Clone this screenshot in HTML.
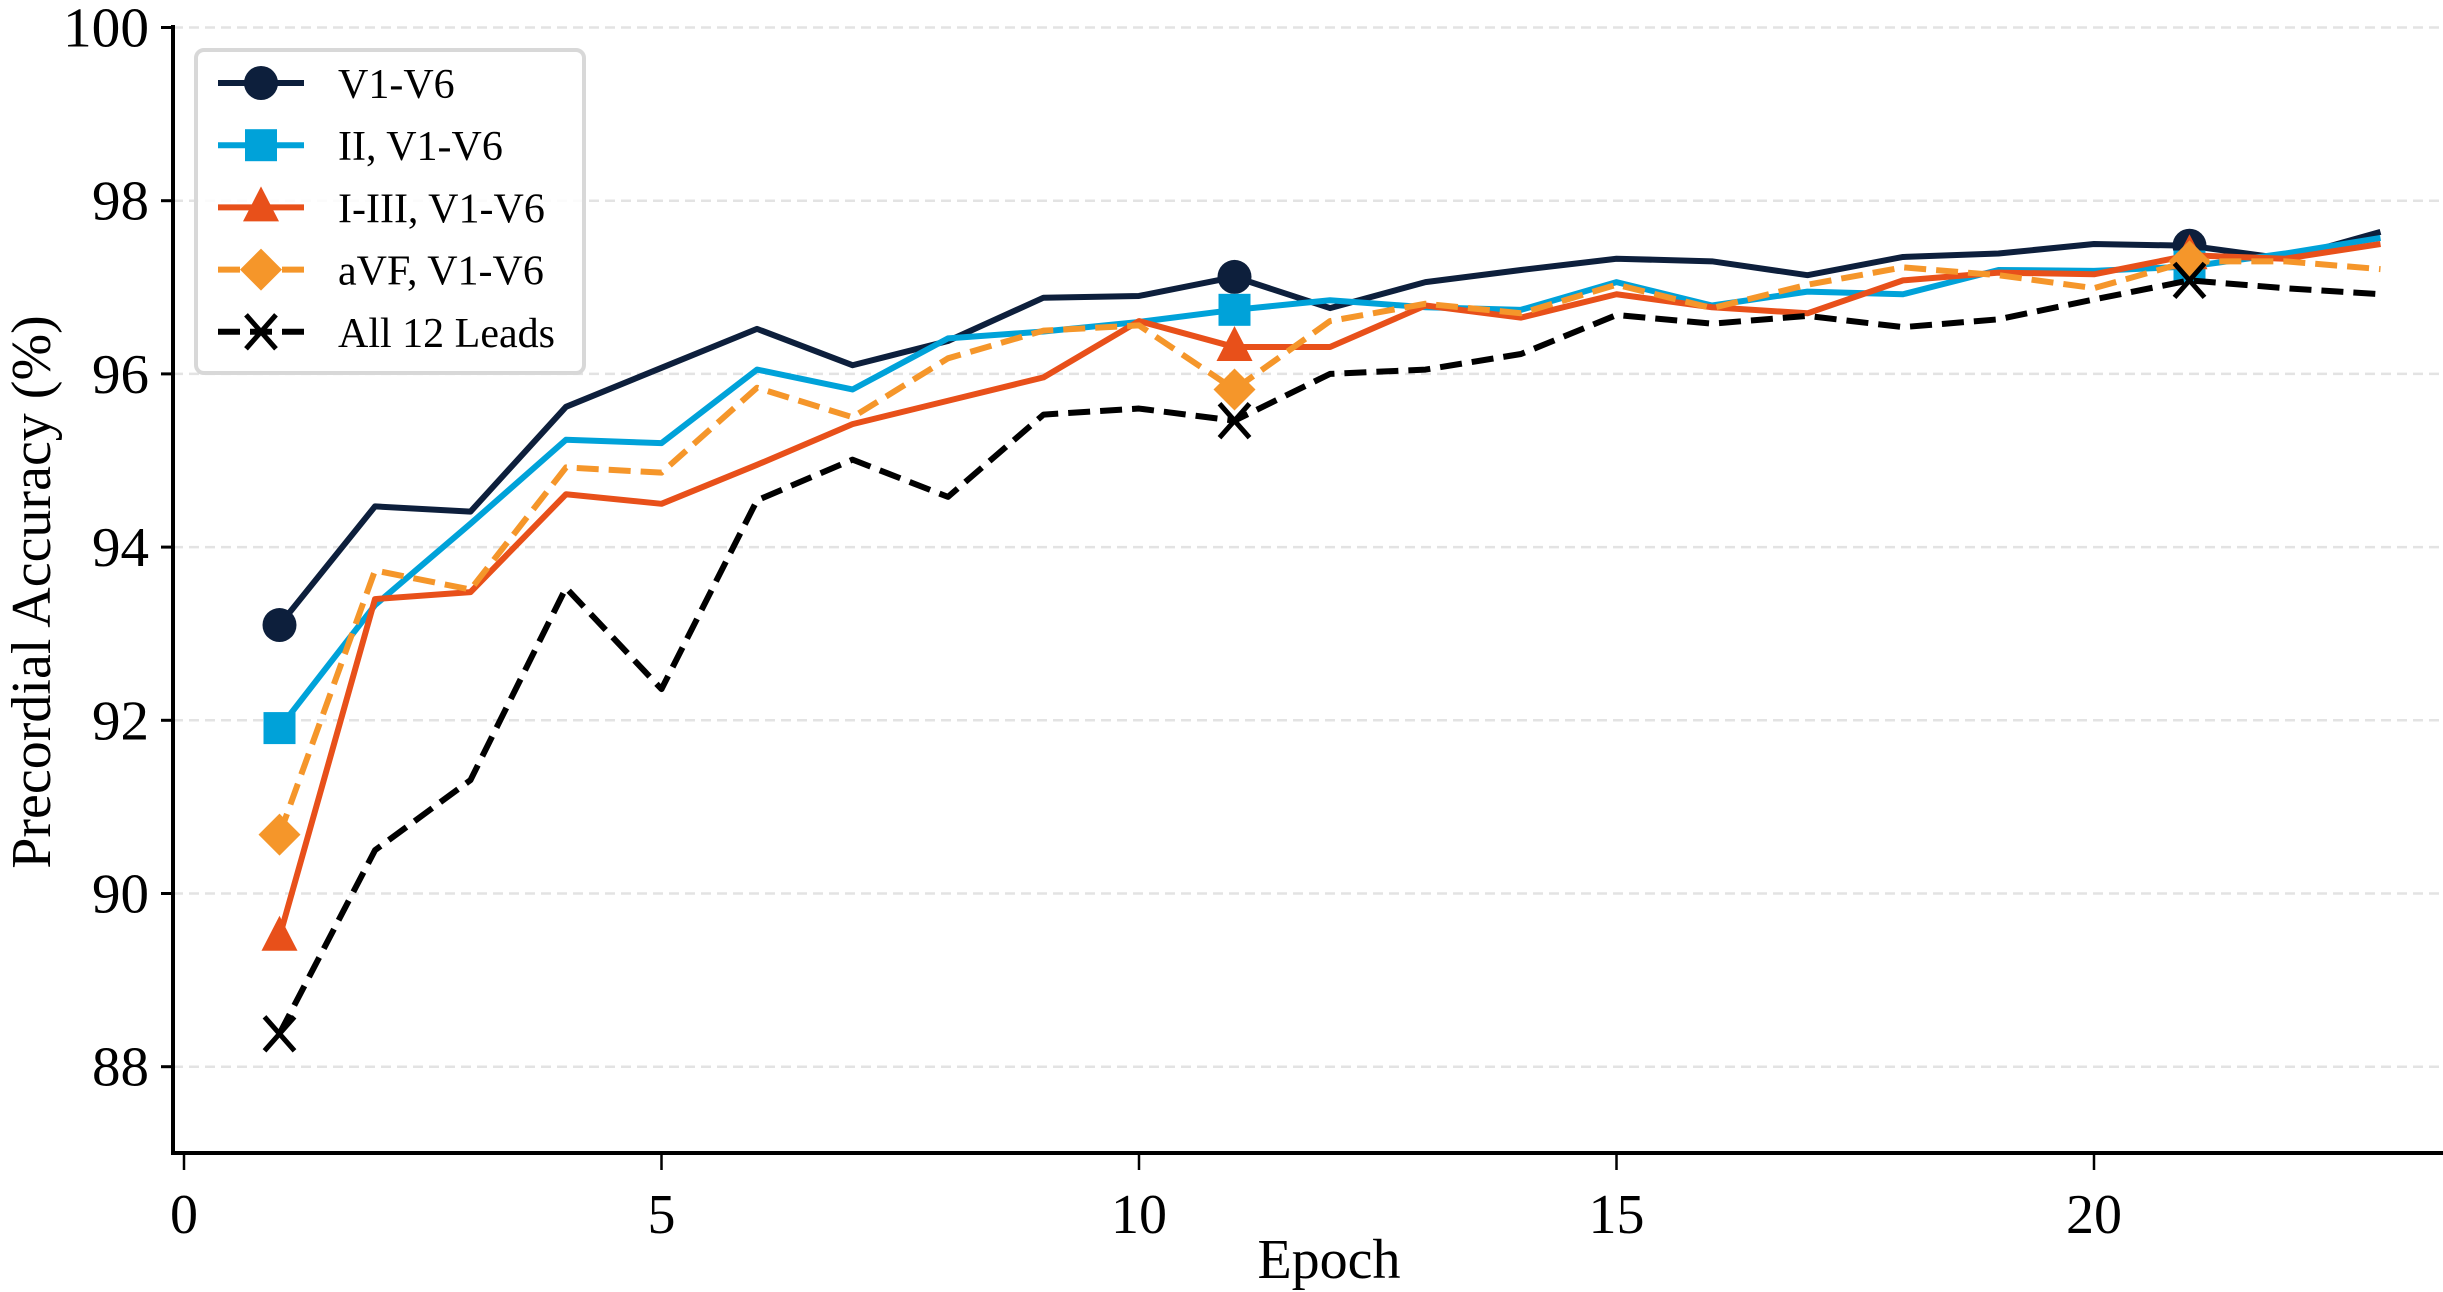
<!DOCTYPE html>
<html><head><meta charset="utf-8">
<style>
html,body{margin:0;padding:0;background:#fff;}
svg{display:block;font-family:"Liberation Serif",serif;}
</style></head>
<body>
<svg id="chart" width="2443" height="1292" viewBox="0 0 2443 1292" xmlns="http://www.w3.org/2000/svg">
<g id="grid"></g>
<g id="series"></g>
<g id="axes"></g>
<g id="legend"></g>
</svg>
<script>
const epochs = [1,2,3,4,5,6,7,8,9,10,11,12,13,14,15,16,17,18,19,20,21,22,23];
const v1v6 = [93.1,94.47,94.41,95.62,96.07,96.52,96.1,96.38,96.88,96.9,97.12,96.76,97.06,97.2,97.33,97.3,97.14,97.35,97.39,97.5,97.48,97.33,97.64];
const iiV1v6 = [91.91,93.33,94.27,95.24,95.2,96.05,95.82,96.41,96.49,96.6,96.74,96.85,96.77,96.74,97.06,96.79,96.95,96.92,97.2,97.19,97.24,97.39,97.57];
const i3V1v6 = [89.5,93.4,93.48,94.61,94.5,94.95,95.42,95.69,95.96,96.61,96.31,96.31,96.79,96.65,96.92,96.77,96.7,97.08,97.17,97.15,97.37,97.33,97.5];
const avfV1v6 = [90.68,93.73,93.51,94.92,94.86,95.84,95.5,96.18,96.5,96.56,95.82,96.61,96.81,96.7,97.03,96.76,97.03,97.23,97.14,96.99,97.3,97.3,97.21];
const all12 = [88.38,90.5,91.31,93.53,92.36,94.54,95.01,94.58,95.53,95.6,95.46,96.0,96.05,96.23,96.68,96.58,96.67,96.54,96.63,96.86,97.08,96.99,96.92];
const yTicks = [88,90,92,94,96,98,100];
const xTicks = [0,5,10,15,20];
const seriesNames = ["V1-V6","II, V1-V6","I-III, V1-V6","aVF, V1-V6","All 12 Leads"];

const NS="http://www.w3.org/2000/svg";
const X0=173, YB=1153;
function xs(v){return 184+v*95.5;}
function ys(v){return 27.5+(100-v)*86.6;}
function mk(tag,attrs,parent){const e=document.createElementNS(NS,tag);for(const k in attrs)e.setAttribute(k,attrs[k]);parent.appendChild(e);return e;}

const grid=document.getElementById('grid'), axes=document.getElementById('axes'), ser=document.getElementById('series'), leg=document.getElementById('legend');

yTicks.forEach(t=>{
  const g=mk('line',{x1:X0,x2:2443,y1:ys(t),y2:ys(t),stroke:'#e3e3e3','stroke-width':2.5,'stroke-dasharray':'10,6'},grid);
  
  
  const tk=mk('line',{x1:X0-12,x2:X0,y1:ys(t),y2:ys(t),stroke:'#000','stroke-width':3},axes);
  
  
  const tx=mk('text',{x:X0-24,y:ys(t)+19,'text-anchor':'end','font-size':56,'textLength':t>=100?86:57,'lengthAdjust':'spacingAndGlyphs'},axes);
  tx.textContent=t;
  
  
});
xTicks.forEach(t=>{
  const tk=mk('line',{x1:xs(t),x2:xs(t),y1:YB,y2:YB+17,stroke:'#000','stroke-width':2.5},axes);
  
  
  const tx=mk('text',{x:xs(t),y:YB+80,'text-anchor':'middle','font-size':56},axes);
  tx.textContent=t;
  
  
});
const ya=mk('line',{x1:X0,x2:X0,y1:25,y2:YB+2,stroke:'#000','stroke-width':4},axes);


const xa=mk('line',{x1:X0-2,x2:2443,y1:YB,y2:YB,stroke:'#000','stroke-width':4},axes);


const xl=mk('text',{x:1329,y:1278,'text-anchor':'middle','font-size':56},axes);
xl.textContent='Epoch';


const yl=mk('text',{x:0,y:0,'text-anchor':'middle','font-size':56,transform:'translate(50,592) rotate(-90)'},axes);
yl.textContent='Precordial Accuracy (%)';



const styles=[
 {c:'#0d1f3c',dash:null,m:'circle'},
 {c:'#00a2d9',dash:null,m:'square'},
 {c:'#e8501a',dash:null,m:'triangle'},
 {c:'#f5962a',dash:'22,10',m:'diamond'},
 {c:'#000000',dash:'22,10',m:'x'}
];
const data=[v1v6,iiV1v6,i3V1v6,avfV1v6,all12];
function marker(type,cx,cy,c,parent){
  let e;
  if(type==='circle') e=mk('circle',{cx:cx,cy:cy,r:17,fill:c},parent);
  else if(type==='square') e=mk('rect',{x:cx-16,y:cy-16,width:32,height:32,fill:c},parent);
  else if(type==='triangle') e=mk('polygon',{points:`${cx},${cy-21} ${cx+18},${cy+14} ${cx-18},${cy+14}`,fill:c},parent);
  else if(type==='diamond') e=mk('polygon',{points:`${cx},${cy-21} ${cx+21},${cy} ${cx},${cy+21} ${cx-21},${cy}`,fill:c},parent);
  else e=mk('path',{d:`M${cx-15},${cy-17}L${cx+15},${cy+17}M${cx-15},${cy+17}L${cx+15},${cy-17}`,stroke:c,'stroke-width':5,fill:'none'},parent);
  return e;
}
data.forEach((arr,i)=>{
  const s=styles[i];
  const g=mk('g',{},ser);
  
  
  const d=arr.map((v,j)=>(j?'L':'M')+xs(epochs[j])+','+ys(v)).join('');
  const p=mk('path',{d:d,fill:'none',stroke:s.c,'stroke-width':6,'stroke-linejoin':'round'},g);
  if(s.dash)p.setAttribute('stroke-dasharray',s.dash);
  
  
  arr.forEach((v,j)=>{ if(j%10===0){
    const m=marker(s.m,xs(epochs[j]),ys(v),s.c,g);
    
    
  }});
});

const box=mk('rect',{x:196,y:50,width:388,height:323,rx:8,fill:'#fff','fill-opacity':0.85,stroke:'#d8d8d8','stroke-width':4},leg);


seriesNames.forEach((n,i)=>{
  const s=styles[i], y=83+i*62.2;
  const g=mk('g',{},leg);
  
  
  const l=mk('line',{x1:218,x2:304,y1:y,y2:y,stroke:s.c,'stroke-width':6},g);
  if(s.dash)l.setAttribute('stroke-dasharray','22,10');
  marker(s.m,261,y,s.c,g);
  const t=mk('text',{x:338,y:y+15,'font-size':42},g);
  t.textContent=n;
});
</script>
</body></html>
